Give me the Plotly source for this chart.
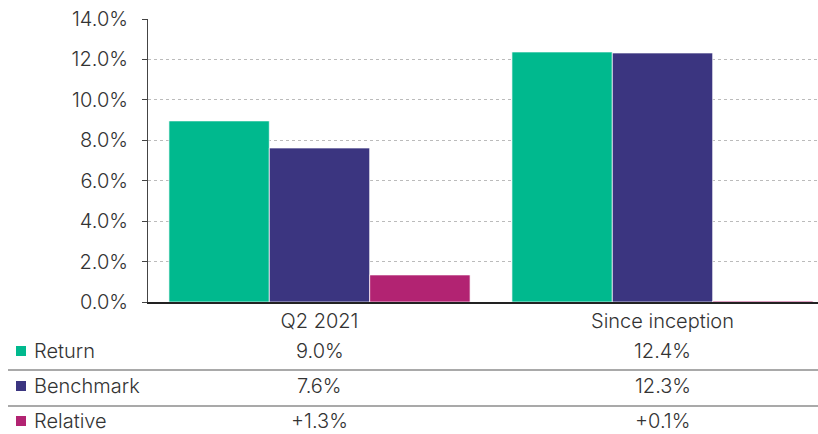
import plotly.graph_objects as go

categories = ["Q2 2021", "Since inception"]
series_names = ["Return", "Benchmark", "Relative"]
return_vals = [8.96, 12.37]
benchmark_vals = [7.62, 12.32]
relative_vals = [1.34, 0.05]
table_labels = {
    "Return": ["9.0%", "12.4%"],
    "Benchmark": ["7.6%", "12.3%"],
    "Relative": ["+1.3%", "+0.1%"],
}
colors = ["#00B98E", "#3B3580", "#B22372"]

FONT = "Inter"
FS = 20
W, H = 818, 434
L, R, T = 148, 0, 19
B = H - 302
plot_w = W - L - R
plot_h = H - T - B
CAT_PX = 343  # one category slot in the reference, px


def px_x(x):
    # reference pixel -> paper coordinate
    return (x - L) / plot_w


def px_y(y):
    return (H - B - y) / plot_h


fig = go.Figure()
for name, vals, col in zip(series_names, [return_vals, benchmark_vals, relative_vals], colors):
    fig.add_trace(go.Bar(
        x=categories, y=vals, name=name,
        marker=dict(color=col, line=dict(color="rgba(255,255,255,0.7)", width=1)),
        hoverinfo="skip",
    ))

fig.update_layout(
    width=W, height=H,
    barmode="group", bargap=0.122, bargroupgap=0.0,
    showlegend=False,
    plot_bgcolor="white", paper_bgcolor="white",
    margin=dict(l=L, r=R, t=T, b=B, autoexpand=False),
    font=dict(family=FONT, size=FS, color="#333333", weight=300),
)
fig.update_yaxes(
    range=[0, 14], dtick=2, tickformat=".1f", ticksuffix="%",
    showgrid=True, gridcolor="#bbbbbb", griddash="dot", gridwidth=1,
    showline=True, linecolor="#444444", linewidth=1,
    ticks="outside", ticklen=5, tickcolor="#444444",
    ticklabelstandoff=10, ticklabeloverflow="allow",
    zeroline=False,
)
fig.update_xaxes(
    range=[-0.5, -0.5 + plot_w / CAT_PX],
    showline=True, linecolor="#222222", linewidth=1.5,
    ticks="", ticklabeloverflow="allow",
)

# table under the chart
row_y = [351, 386, 421]
line_y = [370, 406]
for i, (name, col) in enumerate(zip(series_names, colors)):
    yc = row_y[i]
    fig.add_shape(type="rect", xref="paper", yref="paper",
                  x0=px_x(16), x1=px_x(26), y0=px_y(yc + 5), y1=px_y(yc - 5),
                  fillcolor=col, line=dict(width=0))
    fig.add_annotation(x=px_x(32), y=px_y(yc), xref="paper", yref="paper",
                       text=name, showarrow=False, xanchor="left", yanchor="middle")
    for cat, lab in zip(categories, table_labels[name]):
        fig.add_annotation(x=cat, y=px_y(yc), xref="x", yref="paper",
                           text=lab, showarrow=False, xanchor="center", yanchor="middle")
for ly in line_y:
    fig.add_shape(type="line", xref="paper", yref="paper",
                  x0=px_x(8), x1=1, y0=px_y(ly), y1=px_y(ly),
                  line=dict(color="#555555", width=1.2))

fig.write_html(
    "out.html",
    config={"displayModeBar": False},
    post_script="document.body.style.margin='0';document.body.style.overflow='hidden';",
)
